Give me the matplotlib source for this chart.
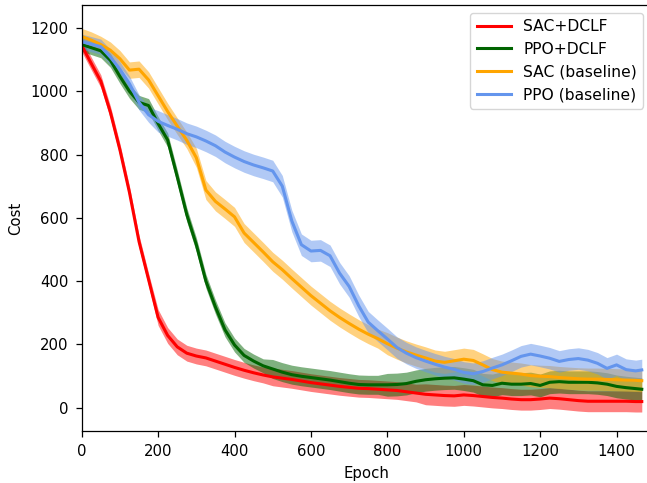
import matplotlib
matplotlib.use("Agg")
import matplotlib.pyplot as plt
import numpy as np

epochs = [0, 25, 50, 75, 100, 125, 150, 175, 200, 225, 250, 275, 300, 325, 350, 375,
          400, 425, 450, 475, 500, 525, 550, 575, 600, 625, 650, 675, 700, 725, 750,
          775, 800, 825, 850, 875, 900, 925, 950, 975, 1000, 1025, 1050, 1075, 1100,
          1125, 1150, 1175, 1200, 1225, 1250, 1275, 1300, 1325, 1350, 1375, 1400,
          1425, 1450, 1466]

sac_dclf = [1145, 1088, 1032, 934, 815, 680, 525, 405, 285, 228, 192, 172, 163, 157,
            147, 137, 127, 118, 110, 103, 97, 93, 89, 84, 79, 75, 71, 67, 64, 61, 60,
            58, 56, 54, 50, 46, 42, 40, 38, 37, 40, 38, 35, 32, 30, 27, 25, 25, 27, 30,
            28, 25, 22, 20, 20, 20, 20, 20, 19, 19]
ppo_dclf = [1148, 1138, 1128, 1098, 1047, 1000, 965, 955, 898, 846, 730, 610, 515, 400,
            318, 246, 198, 165, 147, 132, 122, 112, 104, 99, 95, 91, 87, 82, 77, 73, 72,
            72, 72, 73, 76, 83, 88, 91, 93, 94, 90, 85, 72, 70, 77, 74, 74, 76, 70, 80,
            82, 80, 80, 80, 78, 74, 67, 63, 60, 58]
sac_base = [1173, 1162, 1148, 1130, 1103, 1067, 1070, 1036, 986, 936, 890, 845, 790,
            688, 652, 628, 603, 552, 522, 492, 461, 436, 408, 381, 354, 330, 306, 285,
            266, 248, 232, 218, 202, 188, 176, 166, 157, 147, 143, 148, 153, 149, 135,
            120, 112, 109, 106, 101, 99, 98, 95, 93, 91, 90, 90, 89, 88, 87, 86, 85]
ppo_base = [1157, 1149, 1141, 1108, 1070, 1024, 965, 926, 905, 892, 880, 866, 856, 843,
            828, 808, 792, 778, 767, 758, 748, 700, 590, 515, 495, 497, 480, 425, 383,
            322, 270, 243, 217, 190, 172, 158, 147, 137, 128, 121, 111, 107, 114, 125,
            135, 148, 162, 169, 163, 156, 146, 152, 155, 150, 140, 124, 135, 120, 116, 119]

sac_dclf_sd = [20] * 8 + [25] * 12 + [28] * 16 + [33] * 24
ppo_dclf_sd = [22] * 20 + [30] * 12 + [36] * 28
sac_base_sd = [26] * 12 + [30] * 20 + [35] * 28
ppo_base_sd = [24] * 8 + [34] * 52

labels = ["SAC+DCLF", "PPO+DCLF", "SAC (baseline)", "PPO (baseline)"]
colors = ["red", "darkgreen", "orange", "cornflowerblue"]

fig = plt.figure(figsize=(6.47, 4.83), dpi=100)
ax = fig.add_axes([0.1263, 0.1077, 0.8798, 0.882])

x = np.array(epochs)
series = [(sac_dclf, sac_dclf_sd), (ppo_dclf, ppo_dclf_sd),
          (sac_base, sac_base_sd), (ppo_base, ppo_base_sd)]
for (m, s), lab, c in zip(series, labels, colors):
    m = np.array(m, dtype=float)
    s = np.array(s, dtype=float)
    ax.plot(x, m, color=c, lw=2.2, label=lab)
    ax.fill_between(x, m - s, m + s, color=c, alpha=0.5, lw=0)

ax.set_xlim(0, 1490)
ax.set_ylim(-74, 1273)
ax.set_xticks([0, 200, 400, 600, 800, 1000, 1200, 1400])
ax.set_yticks([0, 200, 400, 600, 800, 1000, 1200])
ax.tick_params(labelsize=10.7, length=4.1, pad=5.5, width=0.9)
for sp in ax.spines.values():
    sp.set_linewidth(0.9)
ax.set_xlabel("Epoch", fontsize=10.7, labelpad=5)
ax.set_ylabel("Cost", fontsize=10.7, labelpad=5)
ax.legend(loc="upper right", fontsize=11.2, handlelength=2.2)

fig.savefig("out.png", dpi=100)
